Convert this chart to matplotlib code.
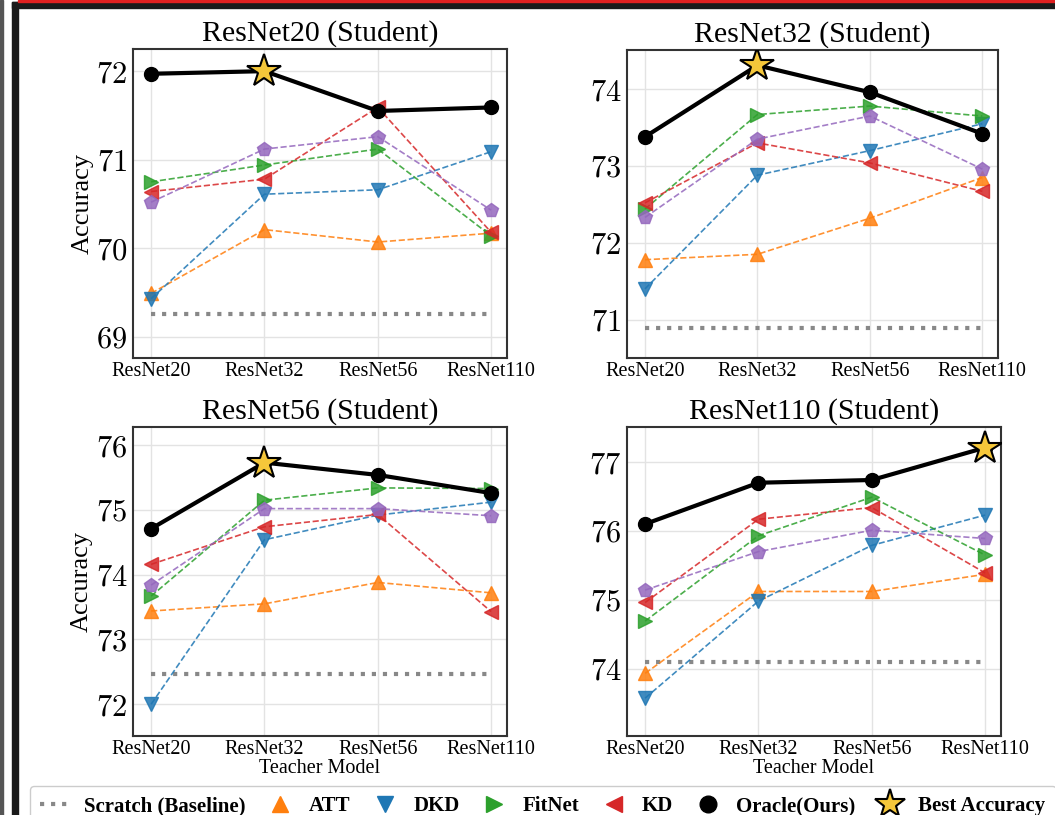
import matplotlib
matplotlib.use("Agg")
import matplotlib.pyplot as plt
from matplotlib.lines import Line2D
from matplotlib.patches import Rectangle
from matplotlib.ticker import MultipleLocator, FuncFormatter
import numpy as np

plt.rcParams["font.family"] = ["Liberation Serif", "DejaVu Serif"]
plt.rcParams["mathtext.fontset"] = "cm"

teachers = ["ResNet20", "ResNet32", "ResNet56", "ResNet110"]
students = ["ResNet20", "ResNet32", "ResNet56", "ResNet110"]

# accuracy per student (rows) and teacher (columns)
scratch = [69.26, 70.89, 72.46, 74.09]
att = [[69.49, 70.21, 70.07, 70.17],
       [71.78, 71.85, 72.32, 72.85],
       [73.44, 73.55, 73.88, 73.72],
       [73.93, 75.12, 75.12, 75.37]]
dkd = [[69.43, 70.61, 70.66, 71.09],
       [71.40, 72.88, 73.20, 73.55],
       [72.00, 74.54, 74.92, 75.12],
       [73.57, 74.98, 75.79, 76.23]]
fitnet = [[70.75, 70.94, 71.12, 70.14],
          [72.44, 73.67, 73.78, 73.65],
          [73.67, 75.15, 75.34, 75.33],
          [74.69, 75.93, 76.49, 75.65]]
kd = [[70.64, 70.78, 71.59, 70.18],
      [72.52, 73.30, 73.04, 72.67],
      [74.16, 74.74, 74.93, 73.43],
      [74.96, 76.17, 76.34, 75.39]]
# purple pentagon series (its legend entry is cut off in the source)
pent = [[70.52, 71.12, 71.26, 70.43],
        [72.33, 73.35, 73.65, 72.96],
        [73.84, 75.02, 75.02, 74.91],
        [75.14, 75.70, 76.01, 75.89]]
oracle = [[71.97, 72.00, 71.55, 71.59],
          [73.38, 74.31, 73.96, 73.42],
          [74.71, 75.73, 75.54, 75.26],
          [76.10, 76.70, 76.74, 77.21]]

ylims = [(68.76, 72.25), (70.50, 74.51), (71.51, 76.28), (73.02, 77.51)]

W, H = 1055, 815
fig = plt.figure(figsize=(W / 100, H / 100), dpi=100)

# frame remnants of the surrounding figure
fig.patches.append(Rectangle((0, 0), 3 / W, 1, transform=fig.transFigure, color="#555555", zorder=0))
fig.patches.append(Rectangle((12 / W, 0), 6 / W, 1 - 2 / H, transform=fig.transFigure, color="#1a1a1a", zorder=0))
fig.patches.append(Rectangle((12 / W, 1 - 8 / H), 1, 6 / H, transform=fig.transFigure, color="#1a1a1a", zorder=0))
fig.patches.append(Rectangle((18 / W, 1 - 2 / H), 1, 2 / H, transform=fig.transFigure, color="#e02020", zorder=0))

boxes = [(133, 49, 507, 358), (627, 50, 998, 358),
         (133, 427, 507, 736), (627, 427, 1001, 736)]

styles = [
    (att, "^", "#ff7f0e"),
    (dkd, "v", "#1f77b4"),
    (fitnet, ">", "#2ca02c"),
    (kd, "<", "#d62728"),
    (pent, "p", "#9467bd"),
]

x = np.arange(len(teachers))
for i, (x0, y0, x1, y1) in enumerate(boxes):
    ax = fig.add_axes([x0 / W, 1 - y1 / H, (x1 - x0) / W, (y1 - y0) / H])
    ax.grid(True, color="#e3e3e3", linewidth=1)
    ax.set_axisbelow(True)
    for sp in ax.spines.values():
        sp.set_color("#333333")
        sp.set_linewidth(1.5)

    ax.plot([0, 3], [scratch[i], scratch[i]], linestyle=":", color="#888888",
            linewidth=3, zorder=2)
    for vals, mk, col in styles:
        ax.plot(x, vals[i], linestyle="--", marker=mk, color=col, linewidth=1.2,
                markersize=10, alpha=0.85, zorder=3)
    ax.plot(x, oracle[i], "-o", color="black", linewidth=3, markersize=10, zorder=5)
    b = int(np.argmax(oracle[i]))
    ax.plot(x[b], oracle[i][b], marker="*", markersize=25, color="#f5c73a",
            markeredgecolor="black", markeredgewidth=1.5, zorder=6)

    ax.set_xlim(-0.16, 3.14)
    ax.set_ylim(*ylims[i])
    ax.yaxis.set_major_locator(MultipleLocator(1))
    ax.yaxis.set_major_formatter(FuncFormatter(lambda v, p: rf"${v:.0f}$"))
    ax.set_xticks(x)
    ax.set_xticklabels(teachers, fontsize=14.5)
    ax.tick_params(axis="y", labelsize=22, length=0, pad=4)
    ax.tick_params(axis="x", length=0, pad=3)
    ax.set_title(f"{students[i]} (Student)", fontsize=21.5, pad=6)
    if i % 2 == 0:
        ax.set_ylabel("Accuracy", fontsize=19, labelpad=2)
    if i >= 2:
        ax.set_xlabel("Teacher Model", fontsize=14.5, labelpad=0)

handles = [
    Line2D([], [], linestyle=":", color="#888888", linewidth=3),
    Line2D([], [], linestyle="none", marker="^", color="#ff7f0e", markersize=12),
    Line2D([], [], linestyle="none", marker="v", color="#1f77b4", markersize=12),
    Line2D([], [], linestyle="none", marker=">", color="#2ca02c", markersize=12),
    Line2D([], [], linestyle="none", marker="<", color="#d62728", markersize=12),
    Line2D([], [], linestyle="none", marker="o", color="black", markersize=12),
    Line2D([], [], linestyle="none", marker="*", color="#f5c73a", markeredgecolor="black",
           markeredgewidth=1.5, markersize=22),
]
labels = ["Scratch (Baseline)", "ATT", "DKD", "FitNet", "KD", "Oracle(Ours)", "Best Accuracy"]
fig.legend(handles, labels, loc="upper left", ncol=7, mode="expand",
           bbox_to_anchor=(30 / W, 1 - 826 / H, 1026 / W, 40 / H), borderaxespad=0,
           prop={"weight": "bold", "size": 15}, handlelength=1.5, handletextpad=0.6,
           frameon=True, fancybox=True, edgecolor="#cccccc", framealpha=1,
           borderpad=0.5)

fig.savefig("out.png", dpi=100)
